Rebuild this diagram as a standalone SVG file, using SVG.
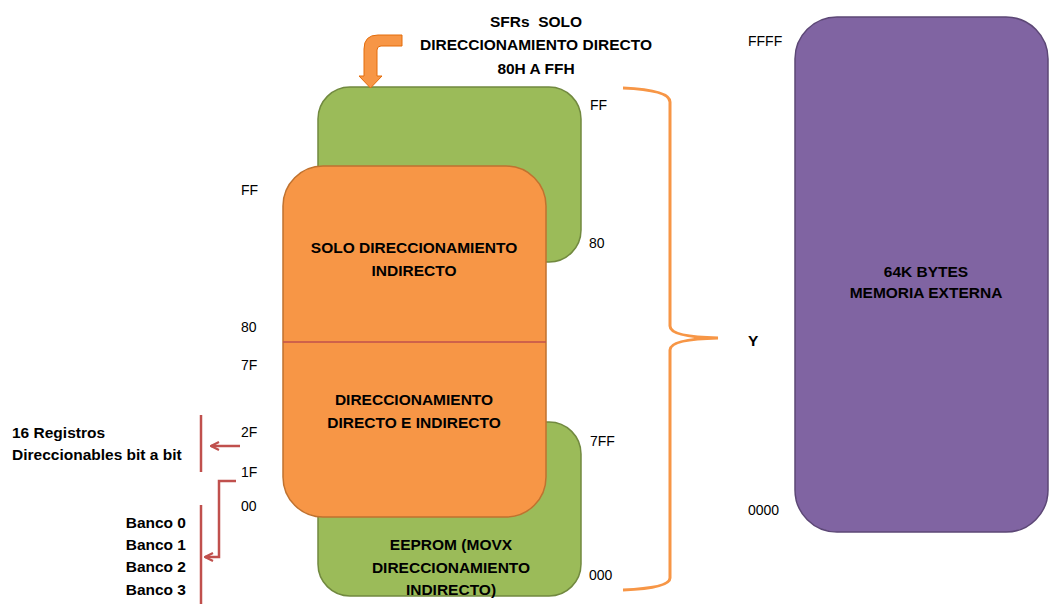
<svg xmlns="http://www.w3.org/2000/svg" width="1050" height="604" viewBox="0 0 1050 604">
  <style>
    text { font-family: "Liberation Sans", Arial, sans-serif; fill: #000; }
    .b { font-weight: bold; font-size: 15.5px; }
    .c { text-anchor: middle; }
    .r { text-anchor: end; }
    .pre { white-space: pre; }
    .addr { font-size: 14px; }
    .green { fill: #9bbb59; stroke: #71893f; stroke-width: 1.5; }
    .orange { fill: #f79646; stroke: #c0722f; stroke-width: 1.5; }
    .purple { fill: #8064a2; stroke: #5c4776; stroke-width: 1.5; }
    .brace { fill: none; stroke: #f79646; stroke-width: 3; }
    .red { fill: none; stroke: #c0504d; stroke-width: 2.5; }
  </style>
  <defs>
    <marker id="redHead" viewBox="0 0 10 10" refX="9" refY="5" markerWidth="4" markerHeight="4" orient="auto">
      <path d="M1,1 L9,5 L1,9" fill="none" stroke="#c0504d" stroke-width="2.2"/>
    </marker>
  </defs>

  <!-- upper block: SFR area 80..FF -->
  <g id="sfr-block">
    <rect class="green" x="318" y="87" width="263" height="175" rx="32"/>
  </g>

  <!-- lower block: external data memory -->
  <g id="eeprom-block">
    <rect class="green" x="318" y="422" width="263" height="174" rx="32"/>
    <text class="b c" x="451" y="550">EEPROM (MOVX</text>
    <text class="b c" x="451" y="573">DIRECCIONAMIENTO</text>
    <text class="b c" x="451" y="595">INDIRECTO)</text>
  </g>

  <!-- internal RAM 00..FF -->
  <g id="internal-ram">
    <rect class="orange" x="283" y="166" width="263" height="351" rx="40"/>
    <line x1="283" y1="342" x2="546" y2="342" stroke="#c0504d" stroke-width="1.5"/>
    <text class="b c" x="414" y="253">SOLO DIRECCIONAMIENTO</text>
    <text class="b c" x="414" y="276">INDIRECTO</text>
    <text class="b c" x="414" y="405">DIRECCIONAMIENTO</text>
    <text class="b c" x="414" y="428">DIRECTO E INDIRECTO</text>
  </g>

  <!-- external memory 0000..FFFF -->
  <g id="external-memory">
    <rect class="purple" x="795" y="17" width="253" height="515" rx="42"/>
    <text class="b c" x="926" y="277">64K BYTES</text>
    <text class="b c" x="926" y="298">MEMORIA EXTERNA</text>
  </g>

  <!-- SFR caption -->
  <g id="sfr-caption">
    <text class="b c pre" x="536" y="27">SFRs  SOLO</text>
    <text class="b c" x="536" y="50">DIRECCIONAMIENTO DIRECTO</text>
    <text class="b c" x="536" y="74">80H A FFH</text>
  </g>

  <!-- side captions -->
  <g id="bit-registers">
    <text class="b" x="12" y="438">16 Registros</text>
    <text class="b" x="12" y="460">Direccionables bit a bit</text>
  </g>
  <g id="banks">
    <text class="b r" x="186" y="528">Banco 0</text>
    <text class="b r" x="186" y="550">Banco 1</text>
    <text class="b r" x="186" y="572">Banco 2</text>
    <text class="b r" x="186" y="595">Banco 3</text>
  </g>

  <!-- address labels -->
  <g id="addresses">
    <text class="addr" x="241" y="195">FF</text>
    <text class="addr" x="241" y="332">80</text>
    <text class="addr" x="241" y="370">7F</text>
    <text class="addr" x="241" y="437">2F</text>
    <text class="addr" x="241" y="477">1F</text>
    <text class="addr" x="241" y="511">00</text>
    <text class="addr" x="590" y="110">FF</text>
    <text class="addr" x="589" y="248">80</text>
    <text class="addr" x="590" y="446">7FF</text>
    <text class="addr" x="589" y="580">000</text>
    <text class="addr" x="748" y="46">FFFF</text>
    <text class="b" x="748" y="346">Y</text>
    <text class="addr" x="748" y="515">0000</text>
  </g>

  <!-- connectors -->
  <g id="connectors">
    <!-- bent arrow into the SFR block -->
    <path d="M402,35 L378,35 Q364,35 364,49 L364,76 L359,76 L370.5,88 L382,76 L377,76 L377,50 Q377,46 381,46 L402,46 Z" fill="#f79646" stroke="#e46c0a" stroke-width="1"/>
    <!-- brace spanning the whole map -->
    <path class="brace" d="M623,88 Q670,90 670,102 L670,326 Q670,337 718,338 Q670,339 670,350 L670,578 Q670,588 623,590"/>
    <!-- bit-addressable area -->
    <line class="red" x1="201" y1="415" x2="201" y2="472"/>
    <line class="red" x1="240" y1="446" x2="211" y2="446" marker-end="url(#redHead)"/>
    <!-- register banks -->
    <line class="red" x1="201" y1="505" x2="201" y2="604"/>
    <polyline class="red" points="236,481 219,481 219,557 205,557" marker-end="url(#redHead)"/>
  </g>
</svg>
